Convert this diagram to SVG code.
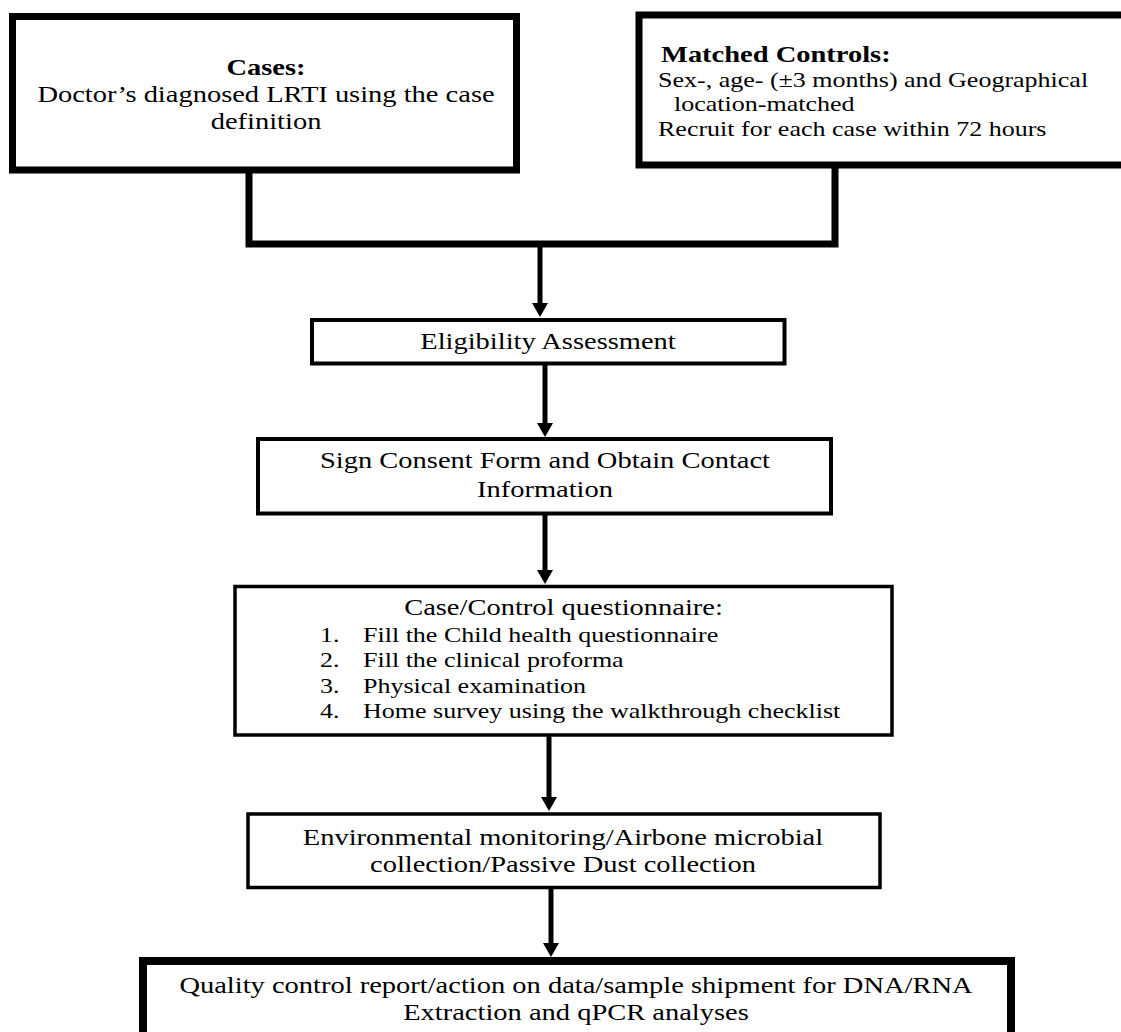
<svg xmlns="http://www.w3.org/2000/svg" width="1121" height="1032" viewBox="0 0 1121 1032">
<style>
.box{fill:#fff;stroke:#000}
.t{font-family:"Liberation Serif","Times New Roman",serif;font-size:23px;fill:#000}
.s{font-size:21px}
.b{font-weight:bold}
.c{text-anchor:middle}
.ln{fill:none;stroke:#000}
</style>
<defs>
<marker id="ah" markerUnits="userSpaceOnUse" markerWidth="14" markerHeight="16" viewBox="0 0 14 16" refX="6" refY="8" orient="auto">
<polygon points="0,0 14,8 0,16" fill="#000"/>
</marker>
</defs>
<rect width="1121" height="1032" fill="#fff"/>

<g id="connectors">
<path class="ln" d="M249,170 V244 H835 V165" stroke-width="7"/>
<line class="ln" x1="540" y1="247" x2="540" y2="309" stroke-width="5" marker-end="url(#ah)"/>
<line class="ln" x1="545" y1="365" x2="545" y2="429" stroke-width="5" marker-end="url(#ah)"/>
<line class="ln" x1="545" y1="515" x2="545" y2="576" stroke-width="5" marker-end="url(#ah)"/>
<line class="ln" x1="549" y1="736" x2="549" y2="803" stroke-width="5" marker-end="url(#ah)"/>
<line class="ln" x1="551" y1="888" x2="551" y2="949" stroke-width="5" marker-end="url(#ah)"/>
</g>

<g id="node-cases">
<rect class="box" x="12.5" y="16.5" width="504" height="153.5" stroke-width="7"/>
<text class="t b c" transform="translate(266,75) scale(1.239,1)">Cases:</text>
<text class="t c" transform="translate(266,102) scale(1.239,1)">Doctor’s diagnosed LRTI using the case</text>
<text class="t c" transform="translate(266,129) scale(1.239,1)">definition</text>
</g>

<g id="node-controls">
<rect class="box" x="639" y="15" width="500" height="150" stroke-width="7"/>
<text class="t b" transform="translate(661,62) scale(1.239,1)">Matched Controls:</text>
<text class="t s" transform="translate(658,87) scale(1.239,1)">Sex-, age- (±3 months) and Geographical</text>
<text class="t s" transform="translate(674,111) scale(1.239,1)">location-matched</text>
<text class="t s" transform="translate(658,136) scale(1.239,1)">Recruit for each case within 72 hours</text>
</g>

<g id="node-eligibility">
<rect class="box" x="312" y="320" width="472.5" height="43.5" stroke-width="4"/>
<text class="t c" transform="translate(548,349) scale(1.239,1)">Eligibility Assessment</text>
</g>

<g id="node-consent">
<rect class="box" x="258" y="439" width="573" height="74.5" stroke-width="4"/>
<text class="t c" transform="translate(545,468) scale(1.239,1)">Sign Consent Form and Obtain Contact</text>
<text class="t c" transform="translate(545,497) scale(1.239,1)">Information</text>
</g>

<g id="node-questionnaire">
<rect class="box" x="235" y="586.5" width="657" height="148.5" stroke-width="3.5"/>
<text class="t c" transform="translate(563.5,615) scale(1.239,1)">Case/Control questionnaire:</text>
<text class="t s" transform="translate(320,642) scale(1.239,1)">1.</text>
<text class="t s" transform="translate(363,642) scale(1.239,1)">Fill the Child health questionnaire</text>
<text class="t s" transform="translate(320,667) scale(1.239,1)">2.</text>
<text class="t s" transform="translate(363,667) scale(1.239,1)">Fill the clinical proforma</text>
<text class="t s" transform="translate(320,693) scale(1.239,1)">3.</text>
<text class="t s" transform="translate(363,693) scale(1.239,1)">Physical examination</text>
<text class="t s" transform="translate(320,718) scale(1.239,1)">4.</text>
<text class="t s" transform="translate(363,718) scale(1.239,1)">Home survey using the walkthrough checklist</text>
</g>

<g id="node-environment">
<rect class="box" x="248" y="814" width="632" height="73.5" stroke-width="3.5"/>
<text class="t c" transform="translate(563,845) scale(1.239,1)">Environmental monitoring/Airbone microbial</text>
<text class="t c" transform="translate(563,872) scale(1.239,1)">collection/Passive Dust collection</text>
</g>

<g id="node-quality">
<rect class="box" x="143" y="961" width="868" height="100" stroke-width="8"/>
<text class="t c" transform="translate(576,993) scale(1.239,1)">Quality control report/action on data/sample shipment for DNA/RNA</text>
<text class="t c" transform="translate(576,1020) scale(1.239,1)">Extraction and qPCR analyses</text>
</g>
</svg>
